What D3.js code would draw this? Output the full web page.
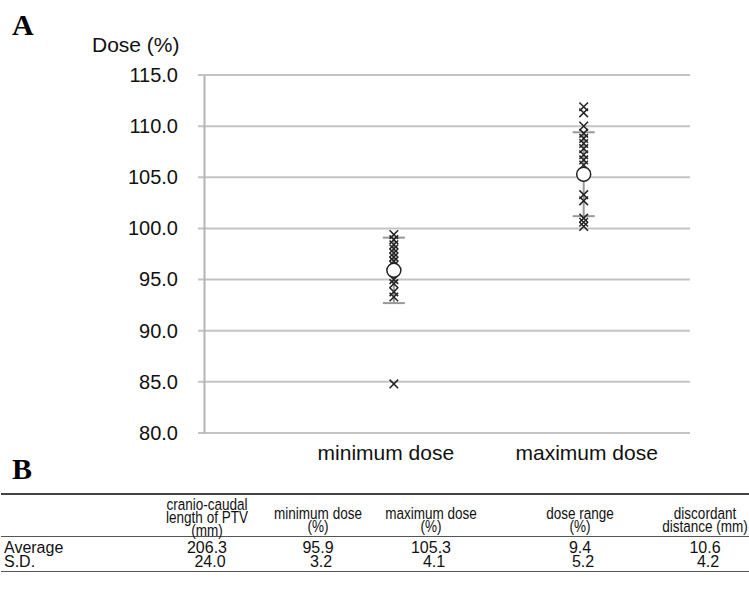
<!DOCTYPE html>
<meta charset="utf-8">
<style>
body { margin: 0; background: #fff; }
svg { display: block; font-family: "Liberation Sans", Arial, sans-serif; }
.grid line { stroke: #c4c4c4; stroke-width: 2px; }
.tbl text { font-family: "Liberation Sans", Arial, sans-serif; font-size: 16px; fill: #111; }
.tbl text.head { font-size: 16.5px; }
</style>
<body>
<script src="https://d3js.org/d3.v7.min.js"></script>
<script>

// chart data
var categories = ["minimum dose", "maximum dose"];
var minDose = [99.4, 98.9, 98.4, 98.0, 97.6, 97.2, 96.8, 96.4, 95.0, 94.6, 93.8, 93.3, 84.8];
var maxDose = [111.9, 111.3, 110.0, 109.3, 108.8, 108.3, 107.8, 107.2, 106.7, 106.2, 103.3, 102.7, 101.0, 100.6, 100.2];
var means = [95.9, 105.3];
var sds = [3.2, 4.1];
var yTicks = [80, 85, 90, 95, 100, 105, 110, 115];

// table data
var colHeads = [
  ["cranio-caudal", "length of PTV", "(mm)"],
  ["minimum dose", "(%)"],
  ["maximum dose", "(%)"],
  ["dose range", "(%)"],
  ["discordant", "distance (mm)"]
];
var rowNames = ["Average", "S.D."];
var averages = ["206.3", "95.9", "105.3", "9.4", "10.6"];
var stdevs = ["24.0", "3.2", "4.1", "5.2", "4.2"];

var width = 749, height = 602;
var plotLeft = 204, plotRight = 690, plotTop = 75, plotBottom = 433;

var svg = d3.select("body").append("svg")
    .attr("width", width)
    .attr("height", height);

var x = d3.scaleLinear().domain([0, 2.56]).range([plotLeft, plotRight]);
var y = d3.scaleLinear().domain([80, 115]).range([plotBottom, plotTop]);

// panel letters
svg.append("text").attr("x", 12).attr("y", 35)
    .style("font-family", "'Liberation Serif', 'Times New Roman', serif")
    .style("font-weight", "bold").style("font-size", "30px").text("A");
svg.append("text").attr("x", 12).attr("y", 479)
    .style("font-family", "'Liberation Serif', 'Times New Roman', serif")
    .style("font-weight", "bold").style("font-size", "30px").text("B");

// gridlines
svg.append("g").attr("class", "grid")
  .selectAll("line").data(yTicks).enter().append("line")
    .attr("x1", plotLeft - 6).attr("x2", plotRight)
    .attr("y1", function(d) { return y(d); })
    .attr("y2", function(d) { return y(d); });

// y axis
var yAxis = svg.append("g")
    .attr("transform", "translate(" + plotLeft + ",0)")
    .call(d3.axisLeft(y).tickValues(yTicks).tickFormat(d3.format(".1f")).tickSize(0).tickPadding(26));
yAxis.select(".domain").attr("stroke", "#b4b4b4").attr("stroke-width", 2);
yAxis.selectAll("text").style("font-size", "20px").style("font-family", "'Liberation Sans', Arial, sans-serif").attr("fill", "#111");

svg.append("text").attr("x", 92).attr("y", 52)
    .style("font-size", "21px").attr("fill", "#111").text("Dose (%)");

// category labels
var labelShift = [-8, 3];
svg.selectAll(".cat").data(categories).enter().append("text")
    .attr("class", "cat")
    .attr("x", function(d, i) { return x(i + 1) + labelShift[i]; })
    .attr("y", 460)
    .attr("text-anchor", "middle")
    .style("font-size", "21px").attr("fill", "#111")
    .text(function(d) { return d; });

// error bars
var eb = svg.selectAll(".eb").data(means).enter().append("g").attr("class", "eb");
eb.append("line")
    .attr("x1", function(d, i) { return x(i + 1); })
    .attr("x2", function(d, i) { return x(i + 1); })
    .attr("y1", function(d, i) { return y(d - sds[i]); })
    .attr("y2", function(d, i) { return y(d + sds[i]); })
    .attr("stroke", "#999").attr("stroke-width", 2);
[-1, 1].forEach(function(s) {
  eb.append("line")
      .attr("x1", function(d, i) { return x(i + 1) - 11; })
      .attr("x2", function(d, i) { return x(i + 1) + 11; })
      .attr("y1", function(d, i) { return y(d + s * sds[i]); })
      .attr("y2", function(d, i) { return y(d + s * sds[i]); })
      .attr("stroke", "#999").attr("stroke-width", 2);
});

// individual points
var cross = d3.symbol().type(d3.symbolX).size(50);
[minDose, maxDose].forEach(function(vals, i) {
  svg.append("g").selectAll("path").data(vals).enter().append("path")
      .attr("d", cross)
      .attr("transform", function(d) { return "translate(" + x(i + 1) + "," + y(d) + ")"; })
      .attr("fill", "none").attr("stroke", "#222").attr("stroke-width", 1.5);
});

// means
svg.selectAll(".mean").data(means).enter().append("circle")
    .attr("class", "mean")
    .attr("cx", function(d, i) { return x(i + 1); })
    .attr("cy", function(d) { return y(d); })
    .attr("r", 7)
    .attr("fill", "#fff").attr("stroke", "#222").attr("stroke-width", 1.5);

// table
var tbl = svg.append("g").attr("class", "tbl");
var colX = [207, 318, 431, 580, 705];
function narrow(px, py) { return "translate(" + px + "," + py + ") scale(0.82,1)"; }

tbl.append("line").attr("x1", 1).attr("x2", 749).attr("y1", 494).attr("y2", 494)
    .attr("stroke", "#444").attr("stroke-width", 2);
tbl.append("line").attr("x1", 1).attr("x2", 749).attr("y1", 536.5).attr("y2", 536.5)
    .attr("stroke", "#555").attr("stroke-width", 1);
tbl.append("line").attr("x1", 1).attr("x2", 749).attr("y1", 571.5).attr("y2", 571.5)
    .attr("stroke", "#555").attr("stroke-width", 1);

colHeads.forEach(function(lines, c) {
  var y0 = lines.length === 3 ? 509.5 : 519;
  lines.forEach(function(s, k) {
    tbl.append("text").attr("class", "head").attr("text-anchor", "middle")
        .attr("transform", narrow(colX[c], y0 + k * 13)).text(s);
  });
});

[averages, stdevs].forEach(function(vals, r) {
  var ry = 553 + r * 13.5;
  tbl.append("text").attr("x", 4).attr("y", ry).text(rowNames[r]);
  vals.forEach(function(v, c) {
    tbl.append("text").attr("text-anchor", "middle")
        .attr("x", colX[c] + (r ? 3 : 0)).attr("y", ry).text(v);
  });
});

</script>
</body>
